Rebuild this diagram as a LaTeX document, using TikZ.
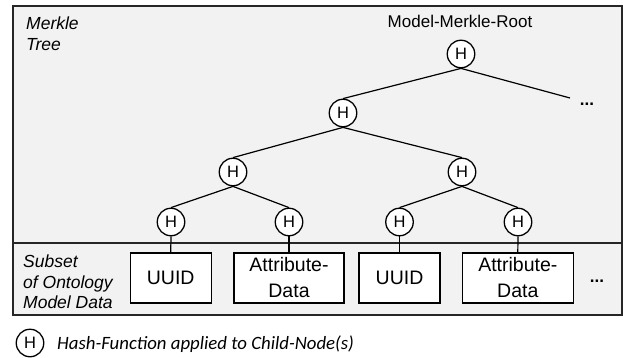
\documentclass[tikz,border=0pt]{standalone}
\usepackage{fontspec}
\setmainfont{Liberation Sans}
\newfontfamily\legendfont{Carlito}
\begin{document}
\begin{tikzpicture}[x=1pt,y=-1pt,
  hnode/.style={circle,draw=black,fill=white,line width=1.3pt,inner sep=0pt,
    minimum size=27.5pt,font=\fontsize{16.5}{16.5}\selectfont},
  databox/.style={rectangle,draw=black,fill=white,line width=1.3pt,inner sep=0pt,
    minimum height=50pt,align=center,font=\fontsize{19.5}{26}\selectfont},
  edge/.style={line width=1.2pt,black},
  sidelabel/.style={anchor=base west,inner sep=0pt,font=\fontsize{17.5}{17.5}\selectfont\itshape},
  dots/.style={anchor=base,inner sep=0pt,font=\fontsize{17}{17}\selectfont\bfseries},
  frame/.style={draw=black!85,line width=1.5pt,fill=black!5}
]
\useasboundingbox (0,0) rectangle (623,358);

% frame with the tree area and the data area
\draw[frame] (13,6) rectangle (622,315);
\draw[draw=black!85,line width=1.5pt] (13,243) -- (622,243);

% section labels
\node[sidelabel] (lm1) at (26,30) {Merkle};
\node[sidelabel] (lm2) at (26,51) {Tree};
\node[sidelabel] (ls1) at (23,267) {Subset};
\node[sidelabel] (ls2) at (23,288) {of Ontology};
\node[sidelabel] (ls3) at (23,308.5) {Model Data};

% root caption
\node[anchor=base,inner sep=0pt,font=\fontsize{17}{17}\selectfont] (rootcap) at (460,28) {Model-Merkle-Root};

% hash nodes
\node[hnode] (root) at (461,54) {H};
\node[hnode] (h2) at (343,113) {H};
\node[hnode] (h3a) at (233,172) {H};
\node[hnode] (h3b) at (462,172) {H};
\node[hnode] (l1) at (171,222) {H};
\node[hnode] (l2) at (289,222) {H};
\node[hnode] (l3) at (399.5,222) {H};
\node[hnode] (l4) at (518,222) {H};

% data boxes
\node[databox,minimum width=81pt] (d1) at (170.7,278) {UUID};
\node[databox,minimum width=110pt] (d2) at (289,278) {Attribute-\\Data};
\node[databox,minimum width=81pt] (d3) at (399.5,278) {UUID};
\node[databox,minimum width=111pt] (d4) at (517.8,278) {Attribute-\\Data};

% continuation marks
\coordinate (more) at (570,98);
\node[dots] (dotsA) at (587,106) {...};
\node[dots] (dotsB) at (597,282) {...};

% tree edges
\draw[edge] (root.south) -- (h2.north);
\draw[edge] (root.south) -- (more);
\draw[edge] (h2.south) -- (h3a.north);
\draw[edge] (h2.south) -- (h3b.north);
\draw[edge] (h3a.south) -- (l1.north);
\draw[edge] (h3a.south) -- (l2.north);
\draw[edge] (h3b.south) -- (l3.north);
\draw[edge] (h3b.south) -- (l4.north);
\draw[edge] (l1.south) -- (d1.north);
\draw[edge] (l2.south) -- (d2.north);
\draw[edge] (l3.south) -- (d3.north);
\draw[edge] (l4.south) -- (d4.north);

% legend
\node[hnode] (legH) at (30,343) {H};
\node[anchor=base west,inner sep=0pt,font=\legendfont\fontsize{18.8}{18.8}\selectfont\itshape] (legtext) at (57,349) {Hash-Function applied to Child-Node(s)};
\end{tikzpicture}
\end{document}
